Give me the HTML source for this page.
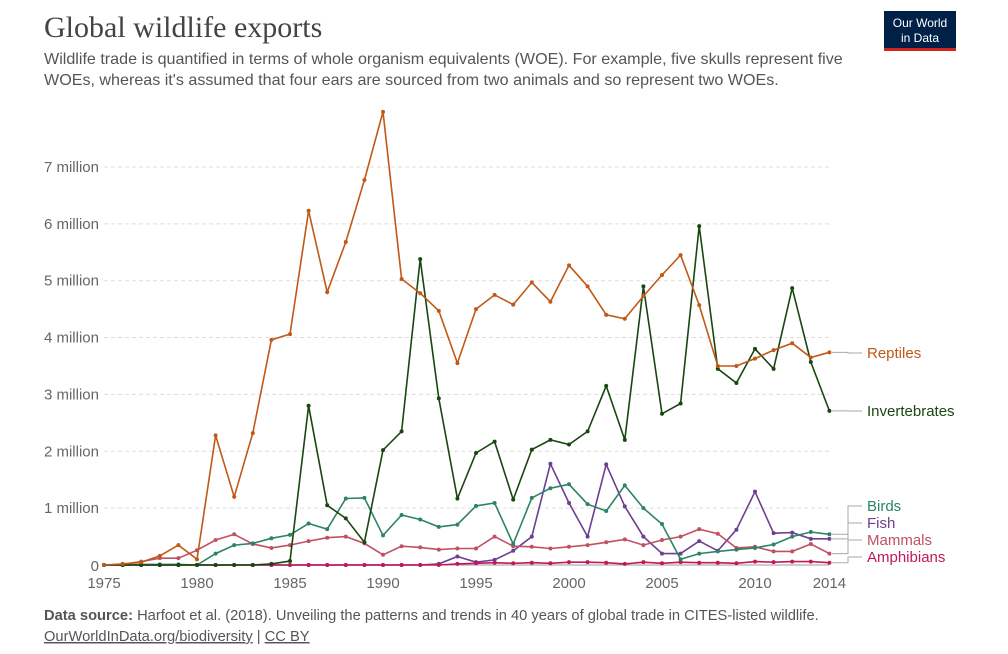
<!DOCTYPE html>
<html><head><meta charset="utf-8"><style>
body{margin:0;background:#fff;width:1008px;height:649px;overflow:hidden;font-family:"Liberation Sans",sans-serif}
</style></head><body>
<svg id="s" width="1008" height="649" xmlns="http://www.w3.org/2000/svg" font-family="Liberation Sans, sans-serif">
<text x="44" y="37" font-family="Liberation Serif, serif" font-size="30" fill="#444">Global wildlife exports</text>
<text x="44" y="64" font-size="16.1" fill="#555">Wildlife trade is quantified in terms of whole organism equivalents (WOE). For example, five skulls represent five</text>
<text x="44" y="85" font-size="16.1" fill="#555">WOEs, whereas it's assumed that four ears are sourced from two animals and so represent two WOEs.</text>
<rect x="884" y="11" width="72" height="40" fill="#002147"/>
<rect x="884" y="48" width="72" height="3" fill="#ce261e"/>
<text x="920" y="27" font-size="12" fill="#fff" text-anchor="middle">Our World</text>
<text x="920" y="42" font-size="12" fill="#fff" text-anchor="middle">in Data</text>
<text x="44" y="620" font-size="14.7" fill="#555"><tspan font-weight="bold">Data source:</tspan> Harfoot et al. (2018). Unveiling the patterns and trends in 40 years of global trade in CITES-listed wildlife.</text>
<text x="44" y="641" font-size="14.7" fill="#555"><tspan text-decoration="underline">OurWorldInData.org/biodiversity</tspan> | <tspan text-decoration="underline">CC BY</tspan></text>
<g id="g"></g>
</svg>
<script>
var g=document.getElementById('g'),h='';
function X(y){return 104+(y-1975)*18.6}
function Y(v){return 565-v*56.86}
for(var k=1;k<=7;k++){h+='<line x1="104" x2="829" y1="'+Y(k)+'" y2="'+Y(k)+'" stroke="#ddd" stroke-dasharray="4,3"/>';
h+='<text x="99" y="'+(Y(k)+5)+'" font-size="15" fill="#666" text-anchor="end">'+k+' million</text>';}
h+='<text x="99" y="571" font-size="15" fill="#666" text-anchor="end">0</text>';
h+='<line x1="104" x2="829" y1="565" y2="565" stroke="#999"/>';
[1975,1980,1985,1990,1995,2000,2005,2010,2014].forEach(function(y){h+='<text x="'+X(y)+'" y="588" font-size="15" fill="#666" text-anchor="middle">'+y+'</text>';});
var S=[
['#6d3e91',[0,0,0,0,0,0,0,0,0,0,0,0,0,0,0,0,0,0,.02,.15,.05,.09,.25,.5,1.78,1.09,.5,1.77,1.03,.5,.2,.2,.42,.25,.62,1.29,.56,.57,.46,.46]],
['#c15065',[0,.01,.06,.12,.12,.26,.44,.54,.37,.3,.35,.42,.48,.5,.38,.18,.33,.31,.27,.29,.29,.5,.33,.32,.29,.32,.35,.4,.45,.35,.44,.5,.63,.55,.3,.32,.24,.24,.37,.2]],
['#c2185b',[0,0,0,0,0,0,0,0,0,0,0,0,0,0,0,0,0,0,0,.02,.03,.04,.03,.04,.03,.05,.05,.04,.02,.05,.03,.05,.04,.04,.03,.06,.05,.06,.06,.04]],
['#2c8465',[0,0,.01,.01,.01,0,.2,.35,.38,.47,.53,.73,.63,1.17,1.18,.52,.88,.8,.67,.71,1.04,1.09,.37,1.18,1.35,1.42,1.07,.95,1.4,1,.72,.1,.2,.24,.27,.3,.36,.5,.58,.54]],
['#18470f',[0,0,0,0,0,0,0,0,0,.02,.07,2.8,1.05,.82,.4,2.02,2.35,5.38,2.93,1.17,1.97,2.17,1.15,2.03,2.2,2.12,2.35,3.15,2.2,4.9,2.66,2.84,5.96,3.45,3.2,3.8,3.45,4.87,3.57,2.71]],
['#c05917',[0,.02,.05,.16,.35,.1,2.28,1.2,2.32,3.96,4.06,6.23,4.8,5.68,6.77,7.97,5.03,4.78,4.47,3.55,4.5,4.75,4.58,4.97,4.63,5.27,4.9,4.4,4.33,4.73,5.1,5.45,4.57,3.5,3.5,3.63,3.78,3.9,3.65,3.74]]];
S.forEach(function(s){var p=s[1].map(function(v,i){return X(1975+i).toFixed(1)+','+Y(v).toFixed(1)}).join(' ');
h+='<polyline points="'+p+'" fill="none" stroke="'+s[0]+'" stroke-width="1.6"/>';
s[1].forEach(function(v,i){h+='<circle cx="'+X(1975+i)+'" cy="'+Y(v)+'" r="2" fill="'+s[0]+'"/>';});});
var L=[['Reptiles','#c05917',3.74,353],['Invertebrates','#18470f',2.71,411],['Birds','#2c8465',.54,506],['Fish','#6d3e91',.46,523],['Mammals','#c15065',.2,540],['Amphibians','#c2185b',.04,557]];
L.forEach(function(l){var y0=Y(l[2]);h+='<polyline points="832,'+y0+' 848,'+y0+' 848,'+l[3]+' 862,'+l[3]+'" fill="none" stroke="#aaa"/>';
h+='<text x="867" y="'+(l[3]+5)+'" font-size="15" fill="'+l[1]+'">'+l[0]+'</text>';});
g.innerHTML=h;
</script>
</body></html>
